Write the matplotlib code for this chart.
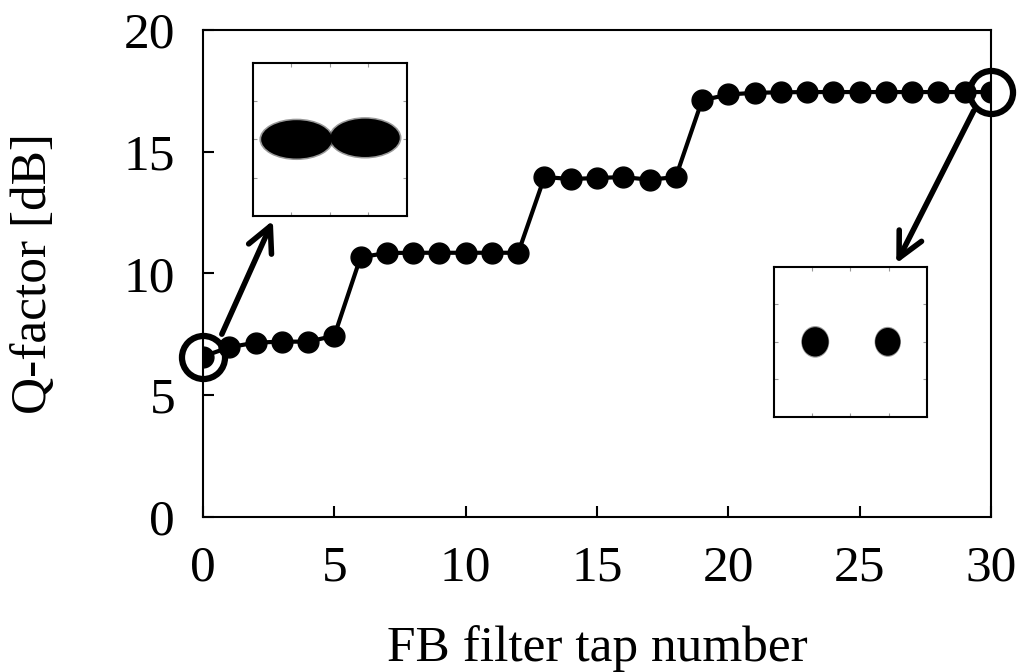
import numpy as np
import matplotlib
matplotlib.use('Agg')
import matplotlib.pyplot as plt
from matplotlib.patches import Ellipse, FancyArrowPatch

plt.rcParams['font.family'] = ['Liberation Serif', 'DejaVu Serif']

# data
taps = list(range(0, 31))
qfactor = [6.59, 6.97, 7.16, 7.2, 7.2, 7.44, 10.67, 10.84, 10.85, 10.85, 10.85, 10.85, 10.85,
           13.96, 13.88, 13.92, 13.96, 13.85, 13.96, 17.11, 17.35, 17.42, 17.44, 17.45,
           17.45, 17.45, 17.45, 17.45, 17.45, 17.45, 17.45]
xticks = [0, 5, 10, 15, 20, 25, 30]
yticks = [0, 5, 10, 15, 20]

# blobs in the constellation insets (center x, center y, width, height)
before_blobs = [(-0.43, 0.0, 0.92, 0.5), (0.46, 0.02, 0.9, 0.5)]
after_blobs = [(-0.46, 0.0, 0.35, 0.39), (0.49, 0.0, 0.33, 0.37)]

fig = plt.figure(figsize=(10.31, 6.72), dpi=100)
ax = fig.add_axes([0.1969, 0.2307, 0.9612 - 0.1969, 0.9554 - 0.2307])

ax.plot(taps, qfactor, '-o', color='black', lw=3, ms=15, zorder=3)
# highlighted points
ax.plot([taps[0], taps[-1]], [qfactor[0], qfactor[-1]], 'o', mfc='none', mec='black',
        mew=4.5, ms=31, zorder=4, clip_on=False)

ax.set_xlim(0, 30)
ax.set_ylim(0, 20)
ax.set_xticks(xticks)
ax.set_yticks(yticks)
ax.tick_params(direction='in', length=8, width=1.5, labelsize=37, top=False, right=False)
ax.tick_params(axis='x', pad=20)
ax.tick_params(axis='y', pad=20)
for s in ax.spines.values():
    s.set_linewidth(1.5)
ax.set_xlabel('FB filter tap number', fontsize=37, labelpad=24)
ax.set_ylabel('Q-factor [dB]', fontsize=37, labelpad=48)


def inset(rect, blobs):
    ia = fig.add_axes(rect)
    ia.set_xlim(-1, 1)
    ia.set_ylim(-1, 1)
    ia.set_xticks([-0.5, 0, 0.5])
    ia.set_yticks([-0.5, 0, 0.5])
    ia.tick_params(direction='in', length=3, color='0.6', top=True, right=True,
                   labelbottom=False, labelleft=False)
    for s in ia.spines.values():
        s.set_linewidth(1.5)
    for cx, cy, w, h in blobs:
        ia.add_patch(Ellipse((cx, cy), w * 1.05, h * 1.08, color='black', alpha=0.4, lw=0))
        ia.add_patch(Ellipse((cx, cy), w, h, color='black', lw=0))
    return ia


W, H = 1031.0, 672.0
inset([252.7 / W, 1 - 216 / H, 154 / W, 153.3 / H], before_blobs)
inset([774 / W, 1 - 417 / H, 152.7 / W, 150.3 / H], after_blobs)

# arrows from highlighted points to the insets (figure pixel coords)
arrow = dict(arrowstyle='->,head_length=0.9,head_width=0.45', lw=4, color='black')
fig.patches.append(FancyArrowPatch(
    (220.7 / W, 1 - 336.7 / H), (274 / W, 1 - 218 / H), transform=fig.transFigure,
    mutation_scale=20, **arrow))
fig.patches.append(FancyArrowPatch(
    (975 / W, 1 - 108.3 / H), (895 / W, 1 - 266 / H), transform=fig.transFigure,
    mutation_scale=20, **arrow))

fig.savefig('out.png', dpi=100)
